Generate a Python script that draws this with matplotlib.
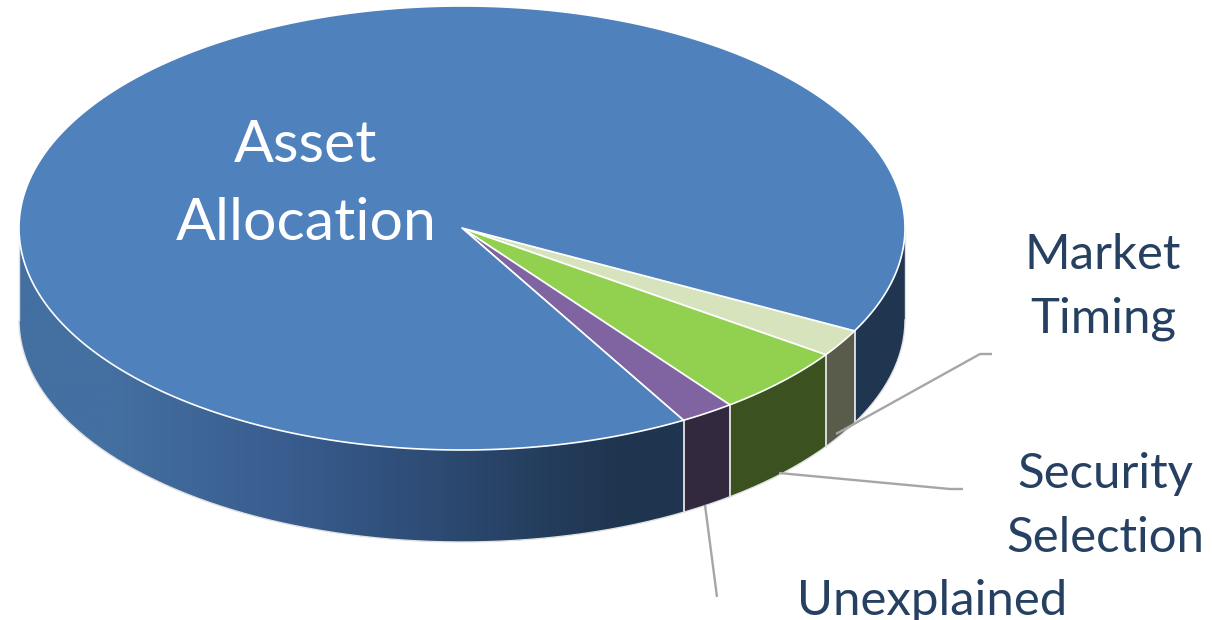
import numpy as np
import matplotlib
matplotlib.use('Agg')
import matplotlib.pyplot as plt
from matplotlib.patches import Polygon, PathPatch
from matplotlib.path import Path
from matplotlib.colors import LinearSegmentedColormap

plt.rcParams['font.family'] = ['Lato', 'DejaVu Sans']

# Return attribution shares in percent, clockwise from the first slice
categories = ['Market Timing', 'Security Selection', 'Unexplained', 'Asset Allocation']
shares = [2.0, 5.0, 2.0, 91.0]
top_colors = ['#D7E3BC', '#92D050', '#8064A2', '#4F81BD']
side_colors = ['#595B4B', '#3B5220', '#33293F', '#1F3550']

start_angle = 27.6

# Disc geometry, in pixels
cx, cy = 462, 228
rx, ry = 443, 222
depth = 92


def rim(t):
    t = np.radians(t)
    return cx + rx * np.cos(t), cy + ry * np.sin(t)


def arc(a, b, n=200):
    return np.array(rim(np.linspace(a, b, n))).T


def wall(a, b):
    upper = arc(a, b)
    lower = upper[::-1] + [0, depth]
    return np.vstack([upper, lower])


fig = plt.figure(figsize=(12.12, 6.2), dpi=100)
ax = fig.add_axes([0, 0, 1, 1])
ax.set_xlim(0, 1212)
ax.set_ylim(620, 0)
ax.axis('off')

edges = start_angle + np.concatenate([[0], np.cumsum(shares)]) / sum(shares) * 360

# Outer wall of the big slice: flat dark piece on the right, gradient on the left
ax.add_patch(Polygon(wall(0, start_angle), fc=side_colors[3], ec='none', zorder=1))
ax.add_patch(Polygon(wall(edges[3], 180), fc=side_colors[3], ec='none', zorder=1))
shade = LinearSegmentedColormap.from_list('shade', [(0, '#446FA1'), (0.14, '#446FA1'),
                                                    (0.45, '#36598A'), (0.9, '#1F3550'),
                                                    (1, '#1F3550')])
img = ax.imshow(np.linspace(0, 1, 400)[None, :], cmap=shade, aspect='auto',
                extent=(cx - rx, rim(edges[3])[0], cy + ry + depth, cy), zorder=2)
clip = PathPatch(Path(wall(edges[3], 180)), transform=ax.transData)
img.set_clip_path(clip)
ax.set_xlim(0, 1212)
ax.set_ylim(620, 0)

# Walls of the small slices
for i in range(3):
    ax.add_patch(Polygon(wall(edges[i], edges[i + 1]), fc=side_colors[i], ec='none', zorder=3))
for e in edges[:4]:
    x, y = rim(e)
    ax.plot([x, x], [y, y + depth], color='#E4E4E4', lw=1.3, zorder=4)

# Faint outline round the wall
lower = arc(0, 180) + [0, depth]
ax.plot(lower[:, 0], lower[:, 1], color='#E2E2E2', lw=1, zorder=4)
ax.plot([cx + rx, cx + rx], [cy, cy + depth], color='#E2E2E2', lw=1, zorder=4)
ax.plot([cx - rx, cx - rx], [cy, cy + depth], color='#E2E2E2', lw=1, zorder=4)

# Top face
for i in range(4):
    pts = np.vstack([[cx, cy], arc(edges[i], edges[i + 1], 400)])
    ax.add_patch(Polygon(pts, fc=top_colors[i], ec='white', lw=1.2, joinstyle='round', zorder=5))

# Leader lines
leaders_x = [[836, 980, 992], [779, 950, 963], [705, 717]]
leaders_y = [[434, 354, 354], [473, 489, 489], [505, 597]]
for lx, ly in zip(leaders_x, leaders_y):
    ax.plot(lx, ly, color='#A6A6A6', lw=1.7, zorder=6, solid_capstyle='butt')

dark = '#254061'
fs = 42.5
fs_small = 35.4
ax.text(306, 146, 'Asset', color='white', fontsize=fs, ha='center', va='center', zorder=7)
ax.text(306, 224, 'Allocation', color='white', fontsize=fs, ha='center', va='center', zorder=7)
ax.text(1103, 255, 'Market', color=dark, fontsize=fs_small, ha='center', va='center', zorder=7)
ax.text(1103, 319, 'Timing', color=dark, fontsize=fs_small, ha='center', va='center', zorder=7)
ax.text(1105, 474, 'Security', color=dark, fontsize=fs_small, ha='center', va='center', zorder=7)
ax.text(1105, 538, 'Selection', color=dark, fontsize=fs_small, ha='center', va='center', zorder=7)
ax.text(932, 601, 'Unexplained', color=dark, fontsize=fs_small, ha='center', va='center', zorder=7)

fig.savefig('out.png', dpi=100, facecolor='white')
